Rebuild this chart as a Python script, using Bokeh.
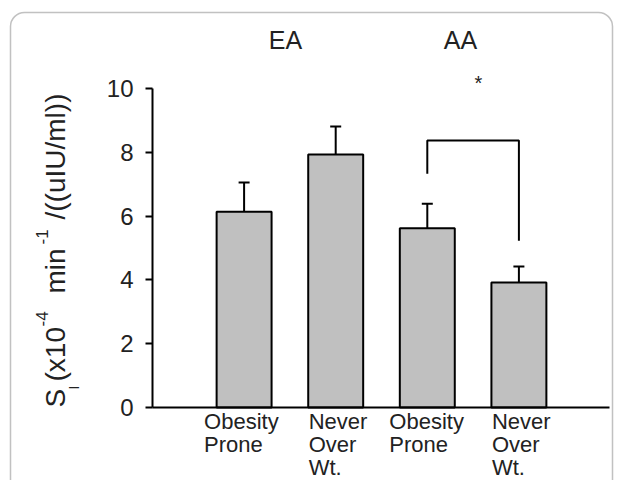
import math
from bokeh.plotting import figure
from bokeh.models import (Range1d, FixedTicker, Whisker, TeeHead, LinearAxis,
                          ColumnDataSource, BoxAnnotation)
from bokeh.core.properties import value
from bokeh.embed import file_html
from bokeh.resources import INLINE

# ---------------- data ----------------
categories = ["Obesity\nProne", "Never\nOver\nWt.", "Obesity\nProne", "Never\nOver\nWt."]
groups = ["EA", "AA"]
si_mean = [6.14, 7.93, 5.62, 3.92]
si_err = [0.91, 0.88, 0.77, 0.50]
y_ticks = [0, 2, 4, 6, 8, 10]
sig_bracket_top = 8.37
sig_leg_ends = [7.33, 5.23]
sig_mark = "*"
y_label_parts = ["S", "I", "(x10", "-4", "min", "-1", "/((uIU/ml))"]

# ---------------- layout helpers (pixel -> data) ----------------
W, H = 614, 480
X0_PX, X_UNIT = 152, 91.6      # pixel of x=0, pixels per category step
Y0_PX, Y_UNIT = 407, 31.9      # pixel of y=0, pixels per unit


def px_to_x(px):
    return (px - X0_PX) / X_UNIT


def py_to_y(py):
    return (Y0_PX - py) / Y_UNIT


FONT = "Liberation Sans"
TXT = "#222222"
xs = [1, 2, 3, 4]

p = figure(width=W, height=H, output_backend="svg", toolbar_location=None,
           x_range=Range1d(px_to_x(0), px_to_x(W)),
           y_range=Range1d(py_to_y(H), py_to_y(0)),
           x_axis_location=None, y_axis_location=None,
           min_border=0, min_border_left=0, min_border_right=0,
           min_border_top=0, min_border_bottom=0)
p.xgrid.visible = False
p.ygrid.visible = False
p.outline_line_color = None
p.background_fill_color = "white"
p.border_fill_color = "white"

# x axis: plain line at y = 0
xaxis = LinearAxis(fixed_location=0, ticker=FixedTicker(ticks=[]),
                   bounds=(0, px_to_x(609)), axis_line_width=2,
                   axis_line_color="black", major_tick_line_color=None,
                   minor_tick_line_color=None)
p.add_layout(xaxis, "below")

# y axis at x = 0
yaxis = LinearAxis(fixed_location=0, ticker=FixedTicker(ticks=y_ticks),
                   bounds=(0, 10), axis_line_width=2, axis_line_color="black",
                   major_tick_in=0, major_tick_out=7, major_tick_line_width=2,
                   minor_tick_line_color=None,
                   major_label_text_font=FONT,
                   major_label_text_font_size="24px",
                   major_label_text_color=TXT, major_label_standoff=12)
p.add_layout(yaxis, "left")

src = ColumnDataSource(dict(x=xs, mean=si_mean,
                            upper=[m + e for m, e in zip(si_mean, si_err)]))

p.vbar(x="x", top="mean", bottom=0, width=0.6, source=src,
       fill_color="#c0c0c0", line_color="black", line_width=2)

p.add_layout(Whisker(base="x", upper="upper", lower="mean", source=src,
                     dimension="height", line_width=2, line_color="black",
                     upper_head=TeeHead(size=11, line_width=2, line_color="black"),
                     lower_head=None))

# significance bracket between the two AA bars
p.line(x=[xs[2], xs[2], xs[3], xs[3]],
       y=[sig_leg_ends[0], sig_bracket_top, sig_bracket_top, sig_leg_ends[1]],
       line_width=2, line_color="black")
p.text(x=[px_to_x(478)], y=[py_to_y(82)], text=[sig_mark],
       text_font=value(FONT), text_font_size="20px", text_align="center",
       text_baseline="middle", text_color=TXT)

# group labels
p.text(x=[px_to_x(285), px_to_x(460)], y=[py_to_y(39), py_to_y(39)],
       text=groups, text_font=value(FONT), text_font_size="25px",
       text_align="center", text_baseline="middle", text_color=TXT)

# category labels: one text per line, lines left-aligned under each bar
label_dx = [-40, -27, -38, -27]
ROW0, ROW_STEP = 421, 23
lx, ly, lt, lo = [], [], [], []
for xi, cat, dx in zip(xs, categories, label_dx):
    for j, line in enumerate(cat.split("\n")):
        lx.append(xi)
        ly.append(py_to_y(ROW0 + j * ROW_STEP))
        lt.append(line)
        lo.append(dx)
p.text(x=lx, y=ly, x_offset=lo, text=lt, text_align="left",
       text_baseline="middle", text_font=value(FONT),
       text_font_size="22px", text_color=TXT)

# y-axis title built from pieces (main / subscript / superscript), rotated
part_start = [407, 389, 381, 326, 293, 244, 219]
part_mid = [55, 73, 55, 41, 55, 41, 55]
part_size = ["28px", "14px", "28px", "17px", "28px", "17px", "28px"]
for t, s0, b, fs in zip(y_label_parts, part_start, part_mid, part_size):
    p.text(x=[px_to_x(b)], y=[py_to_y(s0)], text=[t], angle=math.pi / 2,
           text_align="left", text_baseline="middle",
           text_font=value(FONT), text_font_size=fs, text_color=TXT)

# rounded panel border
p.add_layout(BoxAnnotation(left=px_to_x(10), right=px_to_x(612),
                           top=py_to_y(12), bottom=py_to_y(700),
                           fill_color=None, line_color="#333333",
                           line_width=1.5, border_radius=14))

open("out.html", "w").write(file_html(p, INLINE))
